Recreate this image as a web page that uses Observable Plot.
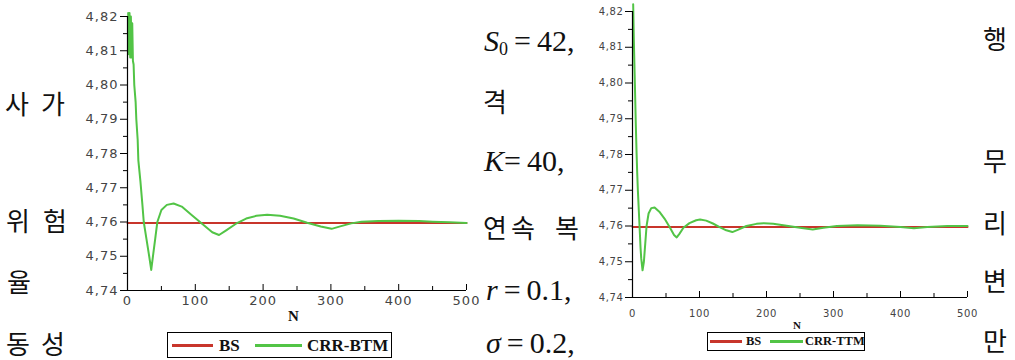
<!DOCTYPE html>
<html><head><meta charset="utf-8">
<script src="https://cdn.jsdelivr.net/npm/d3@7"></script>
<script src="https://cdn.jsdelivr.net/npm/@observablehq/plot@0.6"></script>
<style>
html,body{margin:0;padding:0;background:#fff;}
#page{position:relative;width:1015px;height:360px;overflow:hidden;background:#fff;}
.abs{position:absolute;white-space:nowrap;}
.ko{font-family:"Noto Sans CJK KR";font-size:26px;line-height:26px;color:#111;}
.math{font-family:"Liberation Serif";font-size:30px;line-height:30px;color:#111;}
.math sub{font-size:60%;vertical-align:-0.2em;line-height:0;}
.lgbox{position:absolute;border:1px solid #000;box-sizing:border-box;background:#fff;}
.lgtxt{position:absolute;font-family:"Liberation Serif";font-weight:bold;color:#111;white-space:nowrap;}
.sw{position:absolute;}
.plotwrap{position:absolute;}
</style></head>
<body><div id="page"></div>
<script>
// ---- data ----
const BS_PRICE = 4.7597;
const bsRange = [0, 500];

const btmN = [1,2,3,4,5,6,7,8,9,10,12,13,15,16,19,22,24,28,32,35,38,41,44,50,58,68,80,95,110,125,135,145,160,175,190,206,225,245,265,285,301,315,330,345,370,400,430,450,475,500];
const btmV = [4.821,4.809,4.821,4.808,4.820,4.808,4.818,4.807,4.806,4.800,4.795,4.790,4.784,4.778,4.772,4.765,4.760,4.755,4.750,4.746,4.7507,4.7553,4.760,4.7635,4.765,4.7654,4.7645,4.762,4.7595,4.757,4.7562,4.7575,4.7595,4.761,4.7618,4.7621,4.7618,4.761,4.7598,4.7587,4.758,4.7588,4.7596,4.7601,4.7603,4.7604,4.7603,4.7601,4.7599,4.7597];

const ttmN = [1,2,3,4,5,6,7,8,9,10,11,12,13,15,17,19,21,24,28,33,40,48,56,62,66,70,76,85,95,101,110,120,130,140,149,158,170,185,196,210,230,250,269,285,305,336,370,400,420,440,470,500];
const ttmV = [4.822,4.812,4.804,4.796,4.788,4.781,4.775,4.770,4.766,4.762,4.758,4.754,4.751,4.7476,4.750,4.755,4.760,4.7635,4.765,4.7652,4.764,4.762,4.7595,4.7575,4.7568,4.7578,4.7595,4.7608,4.7616,4.7618,4.7615,4.7607,4.7597,4.7588,4.7583,4.759,4.760,4.7606,4.7608,4.7606,4.7601,4.7595,4.759,4.7595,4.760,4.7602,4.7601,4.7597,4.7594,4.7597,4.760,4.760];

const yTicks = [4.74,4.75,4.76,4.77,4.78,4.79,4.80,4.81,4.82];
const yMinor = [4.745,4.755,4.765,4.775,4.785,4.795,4.805,4.815];
const xTicks = [0,100,200,300,400,500];
const xMinor = [50,150,250,350,450];
const seriesNames = ["BS", "CRR-BTM", "CRR-TTM"];
const xLabel = "N";

const RED = "#c8352b", GREEN = "#52c446";

const page = document.getElementById("page");

function chart(N, V, o) {
  const data = N.map((n, i) => ({N: n, v: V[i]}));
  const bs = bsRange.map(n => ({N: n, v: BS_PRICE}));
  const ph = o.height - o.mt - o.mb;
  return Plot.plot({
    width: o.width, height: o.height,
    marginLeft: o.ml, marginRight: o.mr, marginTop: o.mt, marginBottom: o.mb,
    style: {background: "transparent", fontFamily: "DejaVu Sans", fontSize: o.font + "px", letterSpacing: o.ls + "px", overflow: "visible"},
    x: {domain: [0, 500]},
    y: {domain: [4.74, 4.82]},
    marks: [
      Plot.axisY({ticks: yTicks, tickSize: 7, tickPadding: 2, tickFormat: d => d.toFixed(2).replace(".", ","), label: null, stroke: "#000", fill: "#444"}),
      Plot.axisY({ticks: yMinor, tickSize: 4, tickFormat: () => "", label: null, stroke: "#000"}),
      Plot.axisX({ticks: xTicks, tickSize: 0, tickPadding: o.xpad, tickFormat: d => String(d), label: null, fill: "#444"}),
      Plot.ruleX(xTicks.slice(1), {x: d => d, insetTop: ph - 6, stroke: "#000"}),
      Plot.ruleX(xMinor, {x: d => d, insetTop: ph - 4, stroke: "#000"}),
      Plot.line(bs, {x: "N", y: "v", stroke: RED, strokeWidth: 2}),
      Plot.line(data, {x: "N", y: "v", stroke: GREEN, strokeWidth: 2}),
      Plot.ruleX([0], {stroke: "#000", strokeWidth: 1.2}),
      Plot.ruleY([4.74], {stroke: "#000", strokeWidth: 1.2})
    ]
  });
}

function place(el, left, top) {
  const w = document.createElement("div");
  w.className = "plotwrap";
  w.style.left = left + "px"; w.style.top = top + "px";
  w.appendChild(el);
  page.appendChild(w);
}

place(chart(btmN, btmV, {width: 480, height: 320, ml: 127, mr: 14, mt: 16, mb: 30, font: 13, ls: 1, xpad: 5}), 0, 0);
place(chart(ttmN, ttmV, {width: 500, height: 330, ml: 152, mr: 13, mt: 11, mb: 33, font: 10, ls: 0.6, xpad: 12}), 480, 0);

function addText(cls, html, left, top, extra) {
  const d = document.createElement("div");
  d.className = "abs " + cls;
  d.innerHTML = html;
  d.style.left = left + "px"; d.style.top = top + "px";
  if (extra) Object.assign(d.style, extra);
  page.appendChild(d);
  return d;
}

// Korean text fragments [char, left, centerY]
const koChars = [
  ["사", 5, 104], ["가", 41, 104],
  ["위", 6, 221], ["험", 43, 221],
  ["율", 7, 282],
  ["동", 6, 344], ["성", 41, 344],
  ["격", 483, 102],
  ["연", 483, 228], ["속", 511, 228], ["복", 555, 228],
  ["행", 983, 39], ["무", 983, 161], ["리", 983, 223], ["변", 983, 281], ["만", 983, 341]
];
koChars.forEach(([c, x, cy]) => addText("ko", c, x, cy - 14.5));

// math fragments [html, left, baseline]
const mathLines = [
  ["<i>S</i><sub>0</sub>&thinsp;=&thinsp;42,", 484, 53],
  ["<i>K</i>=&thinsp;40,", 484, 173],
  ["<i>r</i>&thinsp;=&thinsp;0.1,", 486, 302],
  ["<i>σ</i>&thinsp;=&thinsp;0.2,", 486, 355]
];
mathLines.forEach(([h, x, b]) => addText("math", h, x, b - 27));

// axis labels
addText("lgtxt", xLabel, 288, 309, {fontSize: "15px", lineHeight: "15px"});
addText("lgtxt", xLabel, 793, 320, {fontSize: "11px", lineHeight: "11px"});

// legends
function legend(box, items, font, cy) {
  const b = document.createElement("div");
  b.className = "lgbox";
  Object.assign(b.style, {left: box[0] + "px", top: box[1] + "px", width: box[2] + "px", height: box[3] + "px"});
  page.appendChild(b);
  items.forEach(it => {
    const s = document.createElement("div");
    s.className = "sw";
    Object.assign(s.style, {left: it.x1 + "px", top: (cy - 1.5) + "px", width: (it.x2 - it.x1) + "px", height: "3px", background: it.color});
    page.appendChild(s);
    addText("lgtxt", it.name, it.tx, cy - font / 2, {fontSize: font + "px", lineHeight: font + "px"});
  });
}
legend([167, 332, 225, 26], [
  {name: seriesNames[0], color: RED, x1: 172, x2: 213, tx: 219},
  {name: seriesNames[1], color: GREEN, x1: 255, x2: 302, tx: 307}
], 17, 345);
legend([707, 332, 158, 19], [
  {name: seriesNames[0], color: RED, x1: 710, x2: 742, tx: 746},
  {name: seriesNames[2], color: GREEN, x1: 770, x2: 803, tx: 805}
], 12.5, 341);
</script>
</body></html>
